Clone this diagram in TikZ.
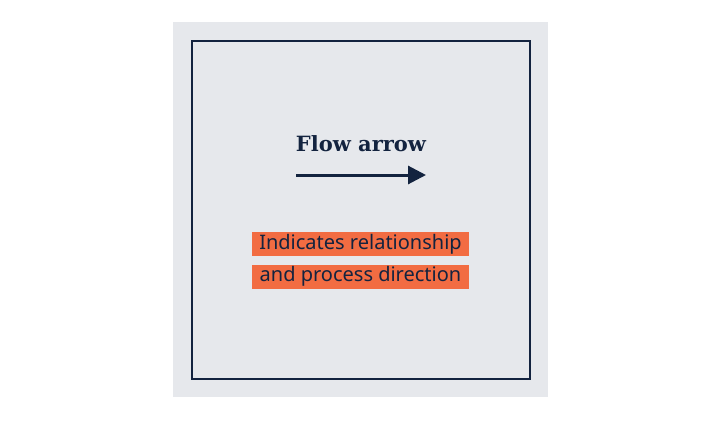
\documentclass[tikz,border=0pt]{standalone}
\usepackage{fontspec}
\setmainfont{Noto Sans}
\newfontfamily\titlefont{DejaVu Serif}
\usetikzlibrary{arrows.meta}
\definecolor{panelgray}{HTML}{E6E8EC}
\definecolor{navy}{HTML}{13233F}
\definecolor{tagorange}{HTML}{F26C42}
\tikzset{
  tag/.style={fill=tagorange, text=navy, minimum width=217bp, minimum height=24bp,
    inner sep=0pt, font=\fontsize{20bp}{22bp}\selectfont},
  flow/.style={draw=navy, line width=3bp, -{Triangle[length=18bp,width=18bp]}},
}
\begin{document}
\begin{tikzpicture}[x=1bp,y=1bp]
  \useasboundingbox (0,0) rectangle (721,421);
  \fill[panelgray] (173,24) rectangle (548,399);
  \draw[navy, line width=1.3bp] (192,42) rectangle (530,380);
  \node[text=navy, font=\titlefont\bfseries\fontsize{21bp}{24bp}\selectfont] (title) at (361,277) {Flow arrow};
  \coordinate (arrowstart) at (296,246);
  \coordinate (arrowend) at (426,246);
  \draw[flow] (arrowstart) -- (arrowend);
  \node[tag] (line1) at (360.5,177) {Indicates relationship};
  \node[tag] (line2) at (360.5,144.5) {and process direction};
\end{tikzpicture}
\end{document}
